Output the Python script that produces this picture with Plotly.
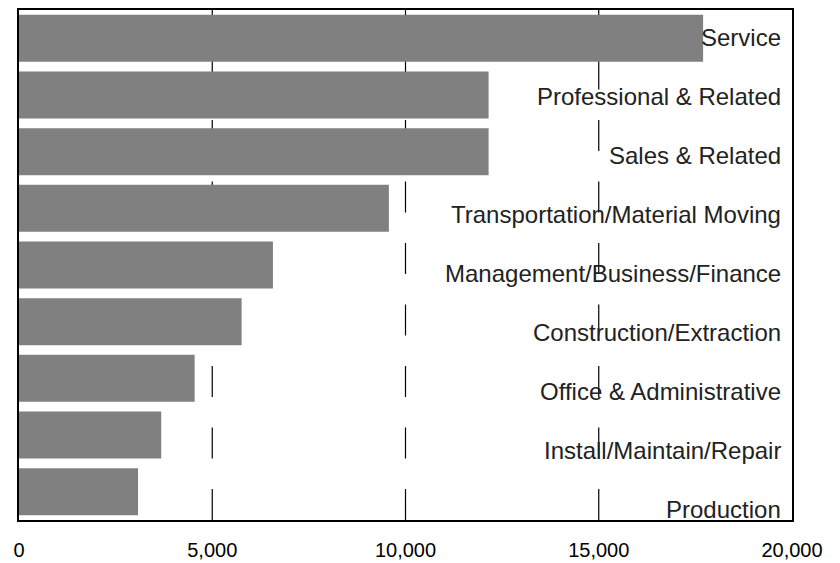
import plotly.graph_objects as go

categories = [
    "Service",
    "Professional & Related",
    "Sales & Related",
    "Transportation/Material Moving",
    "Management/Business/Finance",
    "Construction/Extraction",
    "Office & Administrative",
    "Install/Maintain/Repair",
    "Production",
]
values = [17700, 12150, 12150, 9570, 6570, 5760, 4545, 3680, 3080]
tick_vals = [0, 5000, 10000, 15000, 20000]
tick_text = ["0", "5,000", "10,000", "15,000", "20,000"]
grid_vals = [5000, 10000, 15000]

fig = go.Figure()
fig.add_trace(go.Bar(
    x=values, y=categories, orientation="h",
    marker=dict(color="#808080", line=dict(width=0)),
    hoverinfo="skip",
))

shapes = []
for g in grid_vals:
    shapes.append(dict(
        type="line", xref="x", yref="paper", x0=g, x1=g, y0=0, y1=1,
        line=dict(color="#000000", width=1.2, dash="31px,30.5px"),
        layer="below",
    ))

annotations = []
for i, c in enumerate(categories):
    annotations.append(dict(
        x=1, xref="paper", y=c, yref="y", text=c, showarrow=False,
        xanchor="right", yanchor="middle", xshift=-9,
        yshift=-(-1 + 2.3 * i),
        font=dict(family="Liberation Sans, Arial, sans-serif", size=24, color="#222222"),
    ))

fig.update_layout(
    width=832, height=555,
    margin=dict(l=11, r=48, t=2, b=43, autoexpand=False),
    paper_bgcolor="white", plot_bgcolor="white",
    showlegend=False,
    bargap=0.17,
    shapes=shapes,
    annotations=annotations,
    xaxis=dict(
        range=[0, 20000], tickvals=tick_vals, ticktext=tick_text,
        showgrid=False, zeroline=False, automargin=False,
        showline=True, linecolor="#000000", linewidth=1.5, mirror=True,
        ticks="", ticklabelstandoff=11,
        tickfont=dict(family="Liberation Sans, Arial, sans-serif", size=20, color="#000000"),
    ),
    yaxis=dict(
        autorange="reversed", showticklabels=False, showgrid=False,
        zeroline=False, showline=True, linecolor="#000000", linewidth=1.5,
        mirror=True, ticks="", automargin=False,
    ),
)

fig.write_html("out.html")
